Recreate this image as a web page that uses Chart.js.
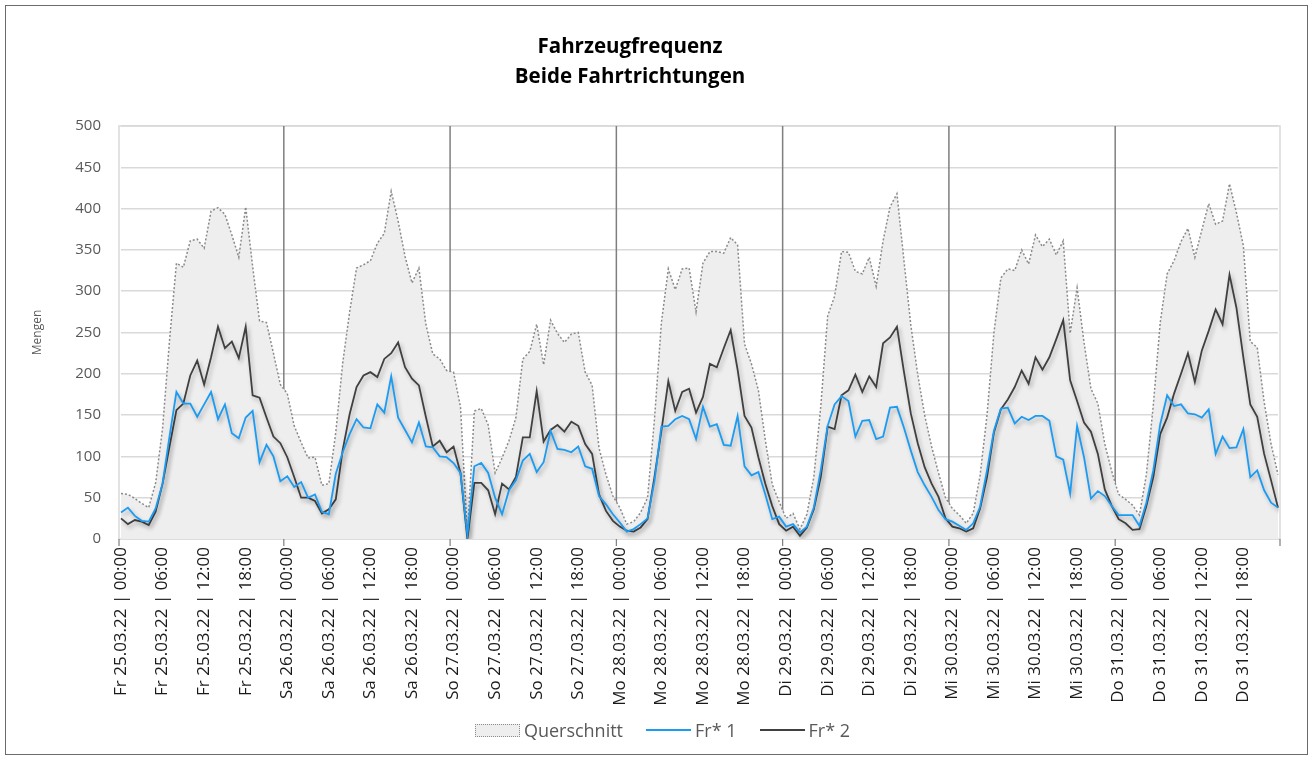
<!DOCTYPE html>
<html lang="de">
<head>
<meta charset="utf-8">
<title>Fahrzeugfrequenz</title>
<script src="https://cdn.jsdelivr.net/npm/chart.js@4.4.1/dist/chart.umd.min.js"></script>
<style>
  html, body { margin: 0; padding: 0; background: #fff; }
  #wrap  { position: relative; width: 1314px; height: 760px; font-family: "Open Sans", Lato, sans-serif; }
  #frame { position: absolute; left: 5px; top: 5px; width: 1303px; height: 750px; border: 1px solid #6b6b6b; box-sizing: border-box; }
  #title { position: absolute; left: 0; top: 30px; width: 1260px; text-align: center;
           font-weight: bold; font-size: 20.5px; line-height: 30px; color: #000; }
  #legend { position: absolute; left: 0; top: 718px; width: 1325px; display: flex; justify-content: center;
            align-items: center; gap: 23px; font-size: 18px; color: #595959; }
  .item { display: flex; align-items: center; gap: 4px; }
  .swatch-area { width: 43px; height: 11px; background: #eeeeee; border: 1px dotted #8a8a8a; }
  .swatch-line { width: 45px; height: 0; border-top: 2px solid; }
  canvas { position: absolute; left: 0; top: 0; }
</style>
</head>
<body>
<div id="wrap">
  <div id="frame"></div>
  <canvas id="chart" width="1314" height="760"></canvas>
  <div id="title">Fahrzeugfrequenz<br>Beide Fahrtrichtungen</div>
  <div id="legend">
    <div class="item"><span class="swatch-area"></span>Querschnitt</div>
    <div class="item"><span class="swatch-line" style="border-color:#1b9cf2"></span>Fr* 1</div>
    <div class="item"><span class="swatch-line" style="border-color:#404040"></span>Fr* 2</div>
  </div>
</div>
<script>
/* ── Fahrzeugfrequenz — hourly counts 25.03.22 – 31.03.22 ───────────────────── */

// ── Categories ────────────────────────────────────────────────────────────────
const DAYS  = ["Fr 25.03.22", "Sa 26.03.22", "So 27.03.22", "Mo 28.03.22",
               "Di 29.03.22", "Mi 30.03.22", "Do 31.03.22"];
const HOURS = ["00:00","01:00","02:00","03:00","04:00","05:00","06:00","07:00",
               "08:00","09:00","10:00","11:00","12:00","13:00","14:00","15:00",
               "16:00","17:00","18:00","19:00","20:00","21:00","22:00","23:00"];

// ── Series (one row per day) ──────────────────────────────────────────────────
const querschnitt = [
  55, 54, 49, 43, 38, 68, 134, 240, 334, 329, 361, 363, 352, 397, 401, 393, 368, 341, 402, 330, 264, 262, 225, 187,
  176, 137, 117, 98, 99, 65, 67, 129, 213, 275, 328, 332, 337, 358, 370, 421, 385, 342, 310, 328, 260, 224, 218, 204,
  202, 160, 5, 155, 158, 138, 80, 98, 119, 147, 218, 227, 260, 211, 265, 249, 238, 248, 250, 202, 186, 110, 78, 52,
  38, 18, 21, 32, 50, 145, 262, 327, 302, 327, 328, 275, 334, 348, 348, 346, 365, 356, 236, 212, 180, 120, 66, 45,
  25, 31, 12, 30, 75, 160, 270, 294, 348, 347, 324, 321, 341, 306, 361, 402, 418, 338, 259, 199, 150, 112, 80, 50,
  37, 29, 19, 31, 77, 150, 250, 316, 327, 325, 350, 333, 368, 354, 363, 344, 361, 249, 304, 238, 182, 164, 115, 82,
  54, 48, 41, 29, 78, 162, 262, 321, 337, 360, 376, 341, 374, 406, 381, 385, 430, 395, 355, 239, 232, 166, 115, 78,
];
const fr1 = [
  32, 38, 28, 22, 21, 37, 67, 124, 178, 164, 164, 148, 163, 178, 145, 163, 128, 122, 147, 155, 93, 114, 100, 70,
  76, 63, 69, 50, 54, 33, 30, 79, 105, 127, 145, 135, 134, 163, 153, 197, 147, 132, 117, 141, 112, 111, 100, 99,
  92, 80, 5, 88, 92, 80, 50, 30, 59, 71, 95, 103, 81, 93, 131, 109, 108, 105, 112, 88, 85, 52, 42, 30,
  20, 9, 12, 18, 25, 70, 136, 137, 145, 149, 145, 121, 160, 136, 139, 114, 113, 149, 88, 77, 81, 54, 24, 27,
  15, 18, 8, 15, 38, 83, 137, 163, 173, 167, 124, 143, 144, 121, 124, 159, 160, 135, 107, 81, 65, 51, 35, 24,
  21, 16, 11, 19, 39, 83, 131, 158, 159, 140, 148, 144, 149, 149, 143, 100, 96, 55, 137, 99, 49, 58, 52, 40,
  29, 29, 29, 16, 44, 83, 139, 174, 161, 163, 152, 151, 147, 157, 103, 124, 110, 111, 133, 75, 83, 59, 44, 38,
];
const fr2 = [
  25, 18, 23, 21, 17, 33, 67, 112, 156, 164, 198, 216, 187, 220, 257, 231, 239, 219, 257, 174, 171, 147, 124, 116,
  99, 75, 50, 50, 46, 31, 36, 48, 108, 151, 184, 198, 202, 196, 218, 225, 238, 208, 194, 186, 148, 112, 119, 105,
  112, 80, 0, 68, 68, 59, 30, 67, 60, 75, 123, 123, 179, 118, 132, 138, 130, 142, 137, 115, 103, 54, 34, 22,
  15, 10, 9, 14, 24, 75, 131, 191, 155, 178, 182, 153, 172, 212, 208, 231, 253, 205, 149, 135, 99, 67, 40, 18,
  10, 15, 4, 14, 36, 75, 136, 133, 174, 180, 199, 178, 197, 184, 237, 244, 257, 203, 152, 116, 87, 67, 51, 25,
  15, 13, 9, 13, 37, 75, 129, 157, 169, 184, 204, 188, 220, 205, 220, 242, 265, 192, 167, 141, 130, 103, 60, 40,
  24, 19, 11, 12, 40, 75, 127, 147, 176, 200, 225, 190, 228, 252, 278, 260, 320, 280, 220, 163, 148, 103, 71, 38,
];

// ── Y axis ticks ──────────────────────────────────────────────────────────────
const Y_MIN = 0, Y_MAX = 500, Y_STEP = 50;

const labels = [];
DAYS.forEach((d) => HOURS.forEach((h) => labels.push(`${d} | ${h}`)));

const FONT = "'Open Sans', Lato, sans-serif";

const COLORS = {
  area:     "#eeeeee",
  areaLine: "#8a8a8a",
  fr1:      "#1b9cf2",
  fr2:      "#404040",
  grid:     "#d9d9d9",
  divider:  "#7f7f7f",
  text:     "#595959",
};

// ── Plugins: plot frame, day dividers, line shadows ───────────────────────────
function dividerX(x, d) {
  return (x.getPixelForValue(d * 24 - 1) + x.getPixelForValue(d * 24)) / 2;
}

const dayDividers = {
  id: "dayDividers",
  beforeDatasetsDraw(chart) {
    const { ctx, chartArea: a, scales: { x } } = chart;
    ctx.save();
    ctx.strokeStyle = COLORS.grid;
    ctx.lineWidth = 1.5;
    ctx.strokeRect(a.left - 2, a.top, a.right - a.left + 4, a.bottom - a.top);
    ctx.strokeStyle = COLORS.divider;
    for (let d = 1; d < DAYS.length; d++) {
      const px = dividerX(x, d);
      ctx.beginPath();
      ctx.moveTo(px, a.top);
      ctx.lineTo(px, a.bottom);
      ctx.stroke();
    }
    ctx.restore();
  },
  afterDatasetsDraw(chart) {
    const { ctx, chartArea: a, scales: { x } } = chart;
    ctx.save();
    ctx.strokeStyle = COLORS.divider;
    ctx.lineWidth = 1.2;
    for (let d = 0; d <= DAYS.length; d++) {
      const px = d === 0 ? a.left - 2 : d === DAYS.length ? a.right + 2 : dividerX(x, d);
      ctx.beginPath();
      ctx.moveTo(px, a.bottom);
      ctx.lineTo(px, a.bottom + 7);
      ctx.stroke();
    }
    ctx.restore();
  },
};

const lineShadow = {
  id: "lineShadow",
  beforeDatasetDraw(chart, args) {
    if (args.index === 0) return;
    const ctx = chart.ctx;
    ctx.save();
    ctx.shadowColor = "rgba(0,0,0,0.28)";
    ctx.shadowBlur = 4;
    ctx.shadowOffsetX = 2;
    ctx.shadowOffsetY = 3;
  },
  afterDatasetDraw(chart, args) {
    if (args.index === 0) return;
    chart.ctx.restore();
  },
};

// ── Chart ─────────────────────────────────────────────────────────────────────
new Chart(document.getElementById("chart").getContext("2d"), {
  type: "line",
  data: {
    labels,
    datasets: [
      {
        label: "Querschnitt",
        data: querschnitt,
        fill: "origin",
        backgroundColor: COLORS.area,
        borderColor: COLORS.areaLine,
        borderWidth: 1.5,
        borderDash: [2, 2],
        pointRadius: 0,
        order: 2,
      },
      {
        label: "Fr* 1",
        data: fr1,
        borderColor: COLORS.fr1,
        borderWidth: 1.8,
        pointRadius: 0,
        fill: false,
        order: 0,
      },
      {
        label: "Fr* 2",
        data: fr2,
        borderColor: COLORS.fr2,
        borderWidth: 1.8,
        pointRadius: 0,
        fill: false,
        order: 1,
      },
    ],
  },
  options: {
    responsive: false,
    animation: false,
    layout: { padding: { top: 126, right: 36, bottom: 51, left: 0 } },
    plugins: {
      legend:  { display: false },
      title:   { display: false },
      tooltip: { enabled: false },
    },
    scales: {
      x: {
        offset: false,
        grid:   { display: false, drawTicks: false },
        border: { display: false },
        ticks: {
          autoSkip: false,
          minRotation: 90,
          maxRotation: 90,
          padding: 8,
          color: "#1a1a1a",
          font: { family: FONT, size: 17 },
          callback: (v, i) => (i % 6 === 0 ? labels[i] : ""),
        },
        afterFit: (s) => { s.height = 170; },
      },
      y: {
        min: Y_MIN,
        max: Y_MAX,
        grid:   { color: COLORS.grid, lineWidth: 1.5, drawTicks: false },
        border: { display: false },
        ticks: {
          stepSize: Y_STEP,
          padding: 20,
          color: COLORS.text,
          font: { family: FONT, size: 15 },
        },
        title: {
          display: true,
          text: "Mengen",
          color: COLORS.text,
          font: { family: FONT, size: 12 },
          padding: { top: 30, bottom: 0 },
        },
        afterFit: (s) => { s.width = 121; },
      },
    },
  },
  plugins: [dayDividers, lineShadow],
});
</script>
</body>
</html>
